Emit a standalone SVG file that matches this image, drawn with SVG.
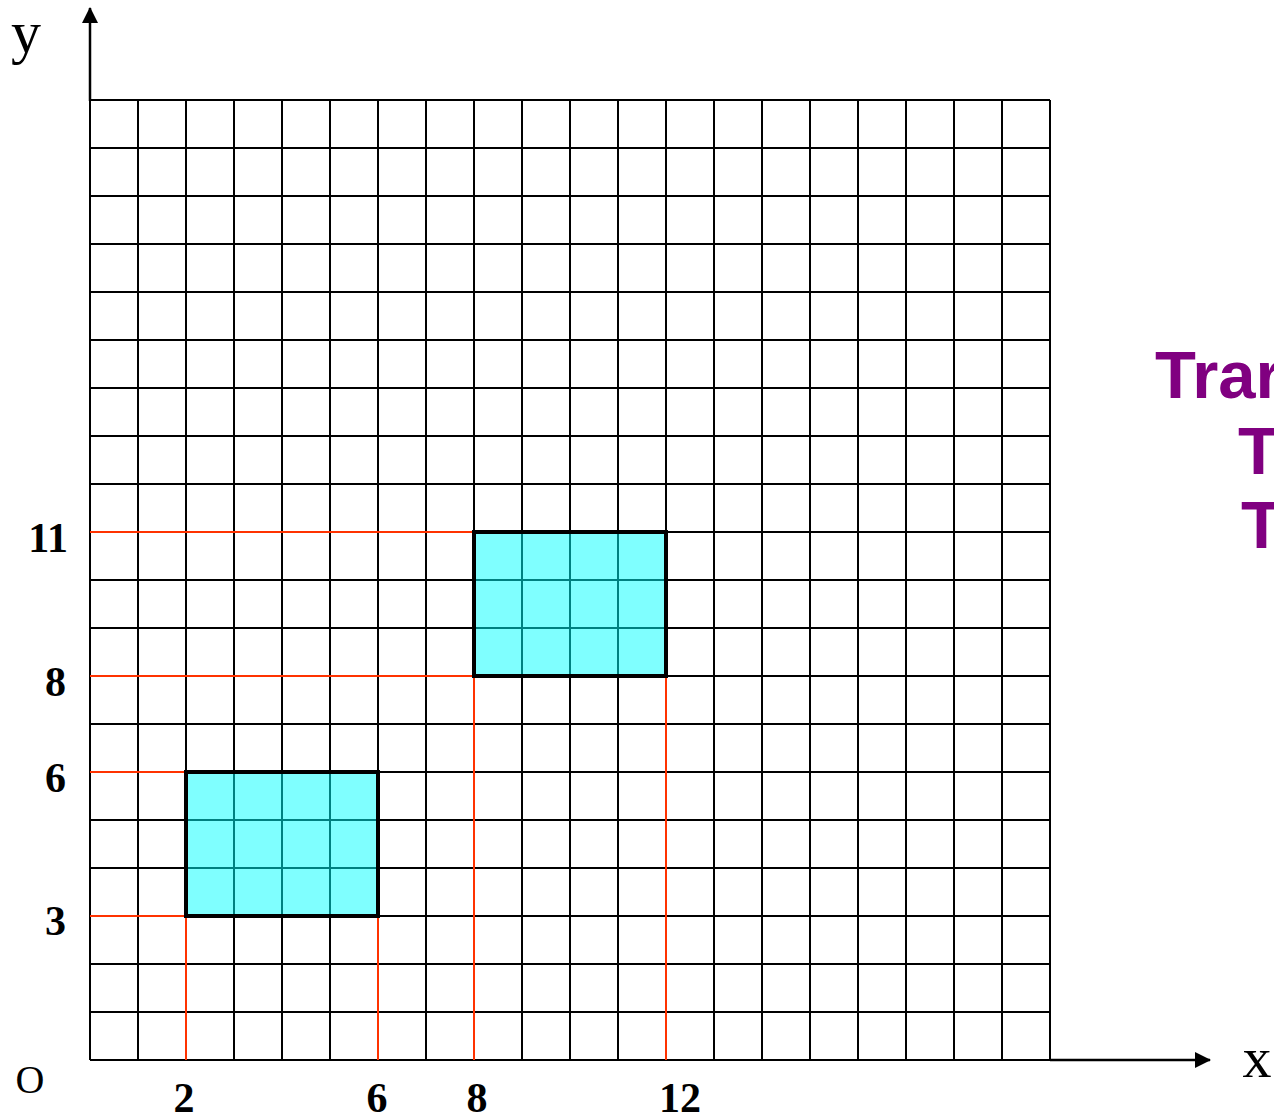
<svg xmlns="http://www.w3.org/2000/svg" width="1274" height="1120" viewBox="0 0 1274 1120">
<style>
.grid{stroke:#000;stroke-width:2}
.red{stroke:#ff3300;stroke-width:2;fill:none}
.shape{fill:rgba(0,255,255,0.5);stroke:#000;stroke-width:4}
.num{font-family:"Liberation Serif",serif;font-weight:bold;font-size:42px;fill:#000}
.axl{font-family:"Liberation Serif",serif;fill:#000}
.pur{font-family:"Liberation Sans",Arial,sans-serif;font-weight:bold;font-size:67px;fill:#800080}
.axis{stroke:#000;stroke-width:2.5;fill:none}
</style>
<defs>
<marker id="ah" viewBox="0 0 16 16" refX="15" refY="8" markerWidth="16" markerHeight="16" markerUnits="userSpaceOnUse" orient="auto">
<path d="M0,0 L16,8 L0,16 Z" fill="#000"/>
</marker>
</defs>
<rect width="1274" height="1120" fill="#fff"/>
<g id="grid" class="grid">
<path d="M90,100V1060M138,100V1060M186,100V1060M234,100V1060M282,100V1060M330,100V1060M378,100V1060M426,100V1060M474,100V1060M522,100V1060M570,100V1060M618,100V1060M666,100V1060M714,100V1060M762,100V1060M810,100V1060M858,100V1060M906,100V1060M954,100V1060M1002,100V1060M1050,100V1060"/>
<path d="M90,100H1050M90,148H1050M90,196H1050M90,244H1050M90,292H1050M90,340H1050M90,388H1050M90,436H1050M90,484H1050M90,532H1050M90,580H1050M90,628H1050M90,676H1050M90,724H1050M90,772H1050M90,820H1050M90,868H1050M90,916H1050M90,964H1050M90,1012H1050M90,1060H1050"/>
</g>
<g id="guides" class="red">
<path d="M90,532H474M90,676H474M90,772H186M90,916H186"/>
<path d="M186,916V1060M378,916V1060M474,676V1060M666,676V1060"/>
</g>
<g id="rect-original">
<rect class="shape" x="186" y="772" width="192" height="144"/>
</g>
<g id="rect-translated">
<rect class="shape" x="474" y="532" width="192" height="144"/>
</g>
<g id="connectors">
<path class="axis" d="M90,101V8" marker-end="url(#ah)"/>
<path class="axis" d="M1050,1060H1210" marker-end="url(#ah)"/>
</g>
<g id="axis-labels">
<text class="axl" x="26" y="52" font-size="60" text-anchor="middle">y</text>
<text class="axl" x="1257" y="1077" font-size="58" text-anchor="middle">x</text>
<text class="axl" x="30" y="1093" font-size="40" text-anchor="middle">O</text>
</g>
<g id="y-labels" class="num" text-anchor="end">
<text x="68" y="552">11</text>
<text x="66" y="696">8</text>
<text x="66" y="792">6</text>
<text x="66" y="935">3</text>
</g>
<g id="x-labels" class="num" text-anchor="middle">
<text x="184" y="1112">2</text>
<text x="377" y="1112">6</text>
<text x="477" y="1112">8</text>
<text x="680" y="1112">12</text>
</g>
<g id="title" class="pur">
<text x="1155" y="398">Trar</text>
<text x="1238" y="474">T</text>
<text x="1241" y="548">T</text>
</g>
</svg>
